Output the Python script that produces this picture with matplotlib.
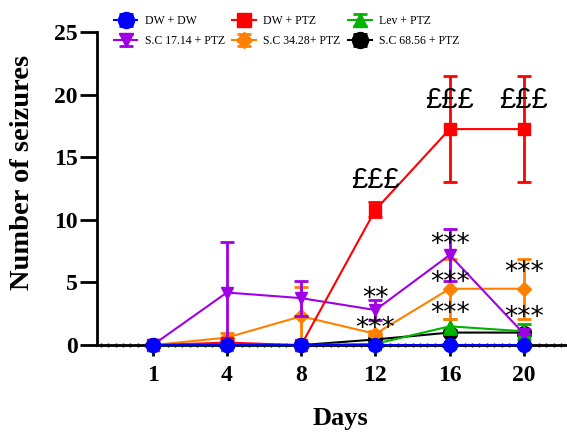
import matplotlib
matplotlib.use("Agg")
import matplotlib.pyplot as plt
from matplotlib.ticker import MultipleLocator

# ---------- data ----------
days = ["1", "4", "8", "12", "16", "20"]

dw_dw = [0, 0, 0, 0, 0, 0]
dw_dw_err = [0, 0, 0, 0, 0, 0]
dw_ptz = [0, 0.2, 0, 10.8, 17.25, 17.25]
dw_ptz_err = [0, 0.2, 0, 0.6, 4.2, 4.2]
lev_ptz = [0, 0, 0, 0.1, 1.5, 1.1]
lev_ptz_err = [0, 0, 0, 0, 0.6, 0.6]
sc17 = [0, 4.2, 3.75, 2.8, 7.2, 0.9]
sc17_err = [0, 4.0, 1.4, 0.8, 2.1, 0]
sc34 = [0, 0.6, 2.3, 0.9, 4.5, 4.5]
sc34_err = [0, 0.4, 2.3, 0.2, 2.4, 2.4]
sc68 = [0, 0, 0, 0.45, 1.0, 1.0]
sc68_err = [0, 0, 0, 0, 0.2, 0.2]

# texto de significancia: (indice del dia, altura, texto)
libras = [(3, 13.2, "£££"), (4, 19.6, "£££"), (5, 19.6, "£££")]
estrellas = [(3, 3.7, "**"), (3, 1.25, "***"),
             (4, 8.0, "***"), (4, 4.95, "***"), (4, 2.45, "***"),
             (5, 5.75, "***"), (5, 2.2, "***")]

serif = "Liberation Serif"
x = list(range(len(days)))

fig = plt.figure(figsize=(5.67, 4.33), dpi=100)
ax = fig.add_axes([0.171, 0.203, 0.829, 0.723])

series = [
    ("S.C 68.56 + PTZ", sc68, sc68_err, "black", "o", 10, 2),
    ("Lev + PTZ", lev_ptz, lev_ptz_err, "#00b400", "^", 9, 3),
    ("S.C 34.28+ PTZ", sc34, sc34_err, "#ff8000", "D", 7, 4),
    ("S.C 17.14 + PTZ", sc17, sc17_err, "#a000e6", "v", 9, 5),
    ("DW + PTZ", dw_ptz, dw_ptz_err, "#ff0000", "s", 9, 6),
    ("DW + DW", dw_dw, dw_dw_err, "#0000ff", "o", 10, 7),
]
handles = {}
for nombre, y, e, c, m, ms, z in series:
    h = ax.errorbar(x, y, yerr=e, color=c, marker=m, markersize=ms, lw=1.5,
                    elinewidth=2, capsize=5, capthick=2, zorder=z, label=nombre,
                    clip_on=False)
    handles[nombre] = h

for i, yv, t in libras:
    ax.text(i, yv, t, ha="center", va="center", fontsize=21,
            family="Liberation Sans", zorder=10)
for i, yv, t in estrellas:
    ax.text(i, yv, t, ha="center", va="center", fontsize=19,
            family="DejaVu Sans", zorder=10)

ax.set_xlim(-0.75, 5.58)
ax.set_ylim(0, 25)
ax.set_xticks(x)
ax.set_xticklabels(days)
ax.yaxis.set_major_locator(MultipleLocator(5))
ax.xaxis.set_minor_locator(MultipleLocator(0.1))
ax.spines["top"].set_visible(False)
ax.spines["right"].set_visible(False)
ax.spines["left"].set_linewidth(2)
ax.spines["bottom"].set_linewidth(2)
ax.tick_params(axis="y", length=12, width=2, pad=2)
ax.tick_params(axis="x", which="major", length=8, width=2, pad=6)
ax.tick_params(axis="x", which="minor", length=3, width=1, direction="inout")
for lab in ax.get_xticklabels() + ax.get_yticklabels():
    lab.set_fontfamily(serif)
    lab.set_fontweight("bold")
    lab.set_fontsize(17)

fig.text(340 / 567, 1 - 418 / 433, "Days", ha="center", va="center",
         fontfamily=serif, fontweight="bold", fontsize=19)
fig.text(23 / 567, 1 - 172 / 433, "Number of seizures", ha="center", va="center",
         rotation=90, fontfamily=serif, fontweight="bold", fontsize=20.5)

orden = ["DW + DW", "S.C 17.14 + PTZ", "DW + PTZ", "S.C 34.28+ PTZ", "Lev + PTZ", "S.C 68.56 + PTZ"]
fig.legend([handles[n] for n in orden], orden, ncol=3, loc="upper left",
           bbox_to_anchor=(0.182, 0.99), frameon=False, prop={"family": serif, "size": 8.5},
           handlelength=2, columnspacing=0.65, labelspacing=0.7, handletextpad=0.6,
           markerscale=1.15)

fig.savefig("out.png", dpi=100)
